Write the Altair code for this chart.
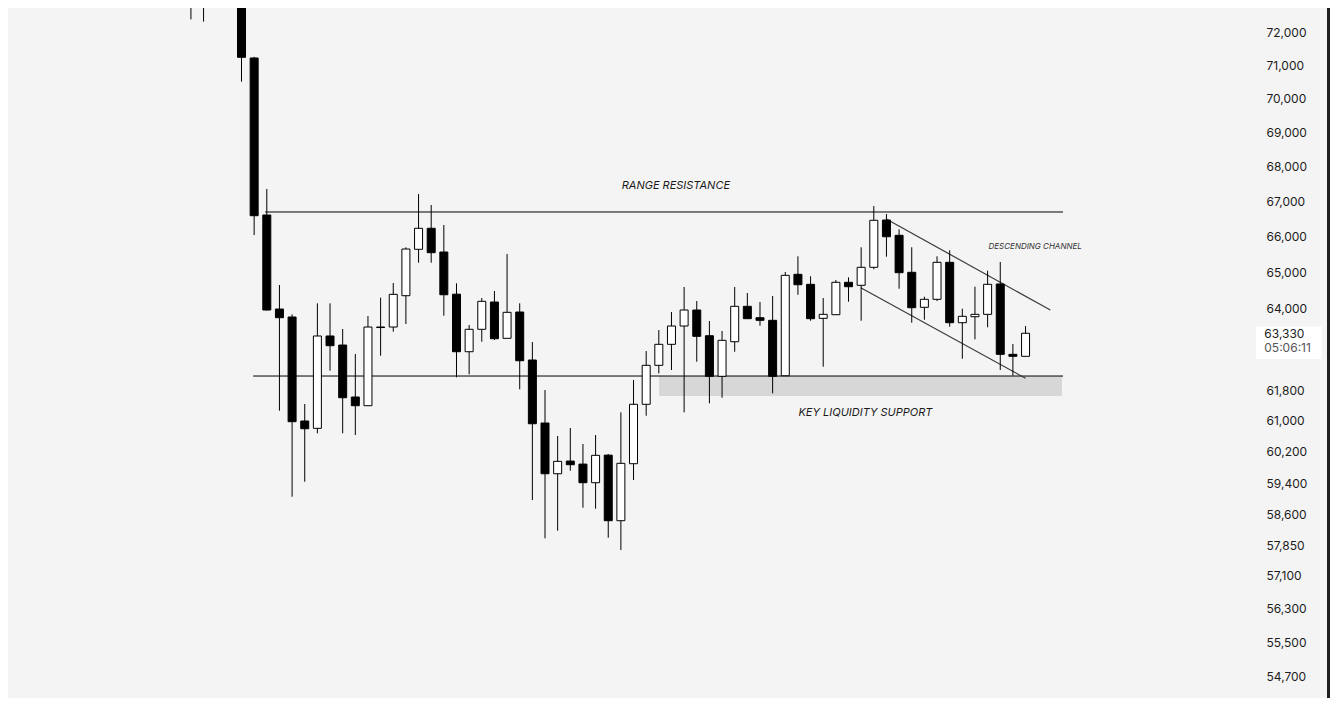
import altair as alt
import pandas as pd

# ---- candle data ----
opens = [73500, 73150, 73700, 75500, 74300, 71235, 66612, 63989, 63771, 60999,
         60809, 63256, 63012, 61628, 61399, 63499, 63499, 64354, 65643, 66235,
         65567, 64396, 62832, 63437, 64181, 63193, 63907, 62610, 60947, 59640,
         59964, 59886, 59412, 60116, 58455, 59896, 61436, 62468, 63031, 63526,
         63962, 63263, 62175, 63101, 64063, 63752, 63681, 62191, 64945, 64668,
         63735, 63834, 64724, 64641, 65140, 66469, 66037, 65001, 64036, 64255,
         65279, 63616, 63779, 63844, 64677, 62762, 62709]
highs = [74000, 73900, 75900, 75800, 74450, 71270, 67356, 64649, 63844, 61444,
         64145, 64145, 63445, 62771, 63798, 64299, 64704, 65699, 67213, 66898,
         66328, 64696, 63553, 64291, 64483, 65511, 64145, 63093, 61812, 60609,
         60817, 60402, 60635, 60145, 61226, 62077, 62851, 63418, 63907, 64594,
         64208, 63662, 63391, 64594, 64428, 64181, 64346, 65009, 65447, 64890,
         64291, 64787, 64862, 65699, 66869, 66641, 66206, 65699, 64327, 65447,
         65615, 63997, 64602, 65045, 65288, 63040, 63526]
lows = [72420, 72350, 73500, 74100, 70517, 66045, 63943, 61268, 59057, 59437,
        60679, 62324, 60679, 60635, 61399, 62725, 63372, 63580, 65268, 65268,
        63806, 62149, 62228, 63101, 63147, 63193, 61831, 58974, 58017, 58205,
        59717, 58780, 58755, 58031, 57727, 59480, 61137, 62255, 62343, 61226,
        62564, 61462, 61609, 62832, 63725, 63534, 61725, 62191, 64381, 63670,
        62431, 63834, 64189, 63670, 65084, 65436, 64547, 63616, 63697, 64208,
        63507, 62644, 63166, 63491, 62343, 62191, 62709]
closes = [73200, 73700, 75500, 74300, 71256, 66592, 63962, 63752, 60981, 60798,
          63256, 62994, 61609, 61399, 63499, 63485, 64392, 65651, 66235, 65548,
          64381, 62832, 63437, 64200, 63182, 63899, 62591, 60928, 59640, 59957,
          59870, 59412, 60111, 58455, 59906, 61436, 62468, 63031, 63526, 63962,
          63247, 62175, 63139, 64063, 63725, 63681, 62175, 64917, 64657, 63725,
          63844, 64724, 64602, 65140, 66462, 65997, 64990, 64025, 64255, 65279,
          63616, 63790, 63844, 64668, 62762, 62709, 63330]

tick_values = [73000, 72000, 71000, 70000, 69000, 68000, 67000, 66000, 65000,
               64000, 61800, 61000, 60200, 59400, 58600, 57850, 57100, 56300,
               55500, 54700]

# horizontal levels: [price, start index, end index]
resistance = [66698, 5.87, 68.96]
support = [62183, 4.92, 68.96]
zone = [61654, 62183, 37.02, 68.88]
# descending channel: x0, p0, x1, p1
chan_upper = [55.02, 66490, 67.96, 63962]
chan_lower = [52.97, 64575, 66.0, 62122]

texts = ["RANGE RESISTANCE", "KEY LIQUIDITY SUPPORT", "DESCENDING CHANNEL"]
text_x = [38.35, 53.34, 66.76]
text_p = [67443, 61208, 65708]
text_size = [11, 11, 8]

last_price = 63330
countdown = "05:06:11"
price_box = [84.23, 89.41, 62637, 63510]

W, H = 1322, 690
x_dom = [-14.07, 89.68]
y_dom = [54190, 72773]

df = pd.DataFrame({"i": list(range(len(opens))), "open": opens, "high": highs,
                   "low": lows, "close": closes})
df["top"] = df[["open", "close"]].max(axis=1)
df["bot"] = df[["open", "close"]].min(axis=1)

xs = alt.Scale(domain=x_dom, nice=False, zero=False)
ys = alt.Scale(type="log", domain=y_dom, nice=False, zero=False)
yaxis = alt.Axis(orient="right", values=tick_values, format=",d", offset=-64,
                 labelPadding=0, ticks=False, tickSize=0, domain=False, grid=False,
                 title=None, labelFont="Inter", labelFontSize=12, labelColor="#1c1c1c",
                 labelAlign="left", labelBaseline="middle", labelOverlap=False,
                 labelFlush=False)


def X(f):
    return alt.X(f, type="quantitative", scale=xs, axis=None)


def Y(f):
    return alt.Y(f, type="quantitative", scale=ys, axis=yaxis)


zone_df = pd.DataFrame({"x0": [zone[2]], "x1": [zone[3]], "p0": [zone[0]], "p1": [zone[1]]})
zone_l = alt.Chart(zone_df).mark_rect(color="#d7d7d7").encode(
    x=X("x0"), x2="x1", y=Y("p0"), y2="p1")

lv_df = pd.DataFrame({"p": [resistance[0], support[0]],
                      "x0": [resistance[1], support[1]],
                      "x1": [resistance[2], support[2]]})
lv_l = alt.Chart(lv_df).mark_rule(color="#000000", strokeWidth=1).encode(
    x=X("x0"), x2="x1", y=Y("p"))

ch_df = pd.DataFrame({"x0": [chan_upper[0], chan_lower[0]], "p0": [chan_upper[1], chan_lower[1]],
                      "x1": [chan_upper[2], chan_lower[2]], "p1": [chan_upper[3], chan_lower[3]]})
ch_l = alt.Chart(ch_df).mark_rule(color="#3a3a3a", strokeWidth=1.2).encode(
    x=X("x0"), x2="x1", y=Y("p0"), y2="p1")

wick_l = alt.Chart(df).mark_rule(color="#000000", strokeWidth=1, clip=True).encode(
    x=X("i"), y=Y("low"), y2="high")

body_l = alt.Chart(df).mark_bar(size=8, stroke="#000000", strokeWidth=1, clip=True).encode(
    x=X("i"), y=Y("bot"), y2="top",
    fill=alt.condition("datum.close >= datum.open", alt.value("#ffffff"), alt.value("#000000")))

tx_df = pd.DataFrame({"t": texts, "x": text_x, "p": text_p, "s": text_size})
tx_big = alt.Chart(tx_df[tx_df.s > 9]).mark_text(
    font="Inter", fontSize=11, fontStyle="italic", color="#1a1a1a",
    align="center", baseline="middle").encode(x=X("x"), y=Y("p"), text="t:N")
tx_small = alt.Chart(tx_df[tx_df.s <= 9]).mark_text(
    font="Inter", fontSize=8, fontStyle="italic", color="#333333",
    align="center", baseline="middle").encode(x=X("x"), y=Y("p"), text="t:N")

pb_df = pd.DataFrame({"x0": [price_box[0]], "x1": [price_box[1]],
                      "p0": [price_box[2]], "p1": [price_box[3]]})
pb_l = alt.Chart(pb_df).mark_rect(color="#ffffff").encode(
    x=X("x0"), x2="x1", y=Y("p0"), y2="p1")

pt_df = pd.DataFrame({"x": [price_box[0] + 0.65], "p": [last_price],
                      "a": [f"{last_price:,}"], "b": [countdown]})
pt_a = alt.Chart(pt_df).mark_text(font="Inter", fontSize=12, color="#1c1c1c",
                                  align="left", baseline="middle", dy=1).encode(
    x=X("x"), y=Y("p"), text="a:N")
pt_b = alt.Chart(pt_df).mark_text(font="Inter", fontSize=12, color="#555555",
                                  align="left", baseline="middle", dy=15).encode(
    x=X("x"), y=Y("p"), text="b:N")

# dark window edge on the right
strip = alt.Chart(pd.DataFrame({"k": [0]})).mark_rect(color="#1f1f1f").encode(
    x=alt.value(W - 3), x2=alt.value(W), y=alt.value(0), y2=alt.value(H))

chart = alt.layer(zone_l, lv_l, ch_l, wick_l, body_l, tx_big, tx_small, pb_l, pt_a, pt_b, strip).properties(
    width=W, height=H, autosize=alt.AutoSizeParams(type="none"), padding=0
).configure(background="#f4f4f4").configure_view(strokeWidth=0)

chart.save("out.html", embed_options={"renderer": "svg", "actions": False})
